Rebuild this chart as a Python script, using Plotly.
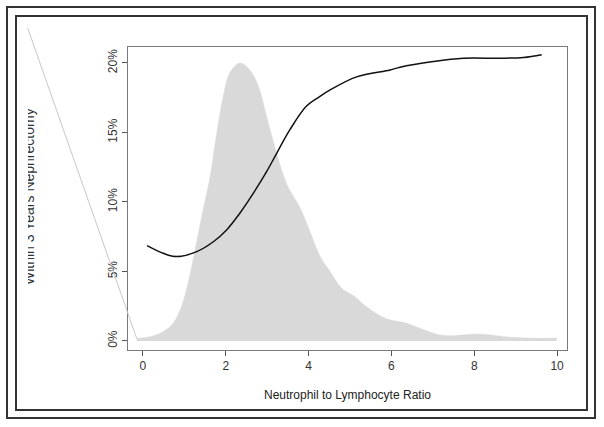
import plotly.graph_objects as go

W, H = 604, 427

# risk curve (percent) vs neutrophil to lymphocyte ratio
risk_x = [0.10, 0.49, 0.81, 1.30, 1.70, 2.02, 2.34, 2.66, 2.99, 3.23, 3.55, 3.95,
          4.25, 4.52, 5.16, 5.97, 6.21, 7.01, 7.74, 8.62, 9.19, 9.63]
risk_y = [6.86, 6.31, 6.07, 6.43, 7.14, 7.99, 9.19, 10.6, 12.2, 13.5, 15.2, 16.9,
          17.55, 18.06, 19.0, 19.5, 19.7, 20.1, 20.34, 20.34, 20.4, 20.6]

# density of NLR (scaled to the same axis)
dens_x = [-0.15, 0.17, 0.49, 0.73, 0.93, 1.09, 1.26, 1.42, 1.62, 1.78, 1.94, 2.10,
          2.34, 2.58, 2.79, 2.99, 3.23, 3.47, 3.79, 4.03, 4.28, 4.52, 4.80, 5.12,
          5.40, 5.85, 6.37, 6.69, 7.17, 7.50, 8.06, 8.46, 8.79, 9.43, 9.99]
dens_y = [0.19, 0.31, 0.67, 1.27, 2.47, 4.15, 6.55, 8.94, 11.8, 14.9, 17.6, 19.3,
          20.0, 19.5, 18.3, 16.1, 13.5, 11.3, 9.6, 7.9, 6.07, 4.99, 3.79, 3.19,
          2.47, 1.63, 1.27, 0.91, 0.43, 0.38, 0.50, 0.41, 0.29, 0.19, 0.22]

# stray unclipped segment running off the plot
stray_x = [-2.78, -0.15]
stray_y = [22.5, 0.19]

x_ticks = [0, 2, 4, 6, 8, 10]
y_ticks = [0, 5, 10, 15, 20]
y_ticktext = ['0%', '5%', '10%', '15%', '20%']

XR = [-0.36, 10.24]
YR = [-0.65, 21.15]
XD = [128 / W, 567 / W]
YD = [(H - 350) / H, (H - 47) / H]

# full-page overlay axes with the same data scale
kx = (XR[1] - XR[0]) / (XD[1] - XD[0])
ky = (YR[1] - YR[0]) / (YD[1] - YD[0])
XR2 = [XR[0] - XD[0] * kx, XR[1] + (1 - XD[1]) * kx]
YR2 = [YR[0] - YD[0] * ky, YR[1] + (1 - YD[1]) * ky]

FONT = 'Liberation Sans, Arial, sans-serif'

fig = go.Figure()
fig.add_trace(go.Scatter(
    x=dens_x, y=dens_y, mode='lines', fill='tozeroy',
    fillcolor='#d9d9d9', line=dict(color='#d9d9d9', width=0.5, shape='spline'),
    hoverinfo='skip',
))
fig.add_trace(go.Scatter(
    x=risk_x, y=risk_y, mode='lines',
    line=dict(color='#111', width=1.5, shape='spline'),
))
fig.add_trace(go.Scatter(
    x=stray_x, y=stray_y, mode='lines', xaxis='x2', yaxis='y2',
    line=dict(color='#c8c8c8', width=1), hoverinfo='skip',
))

axis_common = dict(
    showgrid=False, zeroline=False, showline=True, mirror=True,
    linecolor='#7a7a7a', linewidth=1, ticks='outside', ticklen=5,
    tickcolor='#555', tickwidth=1,
    tickfont=dict(family=FONT, size=12, color='#333'),
)

fig.update_layout(
    width=W, height=H,
    paper_bgcolor='white', plot_bgcolor='rgba(0,0,0,0)',
    margin=dict(l=0, r=0, t=0, b=0),
    showlegend=False,
    font=dict(family=FONT, color='#333'),
    xaxis=dict(domain=XD, range=XR, tickvals=x_ticks, anchor='y', **axis_common),
    yaxis=dict(domain=YD, range=YR, tickvals=y_ticks, ticktext=y_ticktext,
               tickangle=-90, anchor='x', **axis_common),
    xaxis2=dict(domain=[0, 1], range=XR2, visible=False, anchor='y2'),
    yaxis2=dict(domain=[0, 1], range=YR2, visible=False, anchor='x2'),
    shapes=[
        dict(type='rect', xref='paper', yref='paper',
             x0=7 / W, x1=595 / W, y0=1 - 418 / H, y1=1 - 7 / H,
             line=dict(color='#333', width=2)),
        dict(type='rect', xref='paper', yref='paper',
             x0=16 / W, x1=587 / W, y0=1 - 410 / H, y1=1 - 16 / H,
             line=dict(color='#333', width=2)),
    ],
    annotations=[
        dict(text='Neutrophil to Lymphocyte Ratio', xref='paper', yref='paper',
             x=348 / W, y=1 - 395 / H, xanchor='center', yanchor='middle',
             showarrow=False, font=dict(family=FONT, size=12, color='#222')),
        dict(text='Within 3 Years Nephrectomy', xref='paper', yref='paper',
             x=29 / W, y=1 - 197 / H, xanchor='center', yanchor='middle',
             showarrow=False, textangle=-90,
             font=dict(family=FONT, size=14, color='#333')),
        # white box over the left half of the y title (cut off in the original)
        dict(text='', xref='paper', yref='paper', x=18 / W, y=1 - 100 / H,
             xanchor='left', yanchor='top', showarrow=False,
             width=10, height=195, bgcolor='white', borderpad=0, borderwidth=0),
    ],
)

fig.write_html('out.html', config={'displayModeBar': False},
               post_script="document.body.style.margin='0';")
